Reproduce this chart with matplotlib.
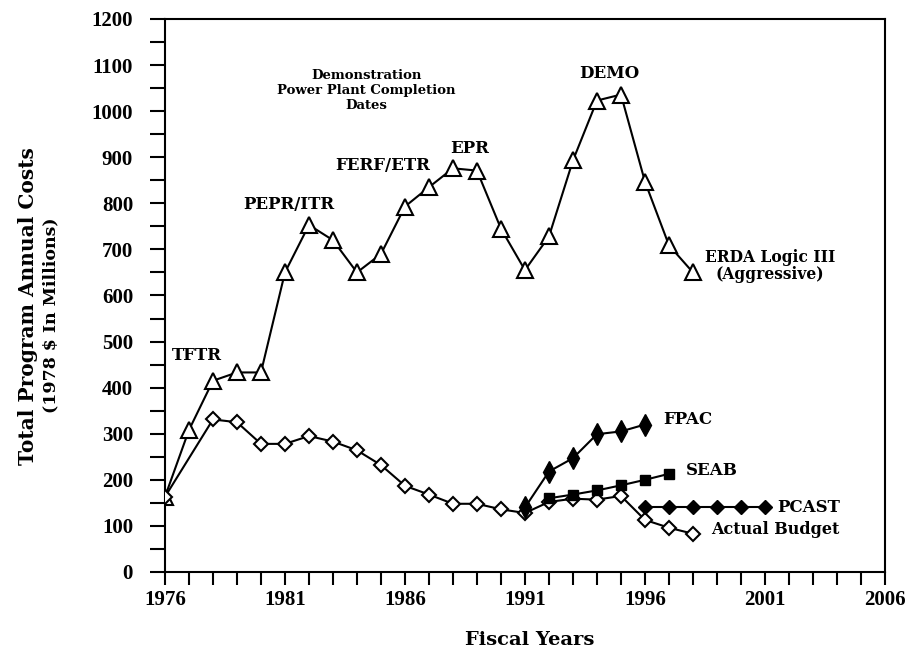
import matplotlib
matplotlib.use("Agg")
import matplotlib.pyplot as plt
from matplotlib.ticker import MultipleLocator

plt.rcParams['font.family'] = ['DejaVu Serif']

# ERDA Logic III (Aggressive)
erda_years = list(range(1976, 1999))
erda_vals = [163, 308, 415, 433, 433, 650, 753, 720, 650, 690, 793, 835, 876, 871, 745, 655, 728, 893, 1023, 1036, 847, 709, 650]

# Actual budget
actual_years = [1976, 1978, 1979, 1980, 1981, 1982, 1983, 1984, 1985, 1986, 1987,
                1988, 1989, 1990, 1991, 1992, 1993, 1994, 1995, 1996, 1997, 1998]
actual_vals = [163, 331, 325, 278, 278, 295, 283, 264, 232, 187, 168,
               148, 148, 136, 128, 152, 159, 157, 165, 113, 96, 83]

# FPAC
fpac_years = [1991, 1992, 1993, 1994, 1995, 1996]
fpac_vals = [140, 218, 247, 299, 305, 320]

# SEAB
seab_years = [1992, 1993, 1994, 1995, 1996, 1997]
seab_vals = [160, 168, 177, 188, 200, 213]

# PCAST
pcast_years = [1996, 1997, 1998, 1999, 2000, 2001]
pcast_vals = [140, 140, 140, 140, 140, 140]

x_tick_labels = ['1976', '1981', '1986', '1991', '1996', '2001', '2006']

fig = plt.figure(figsize=(9.18, 6.57), dpi=100)
ax = fig.add_axes([0.1797, 0.1294, 0.7843, 0.8417])

lw = 1.5
ax.plot(erda_years, erda_vals, color='black', lw=lw, marker='^', ms=11,
        mfc='white', mec='black', mew=1.5, zorder=3)
ax.plot(actual_years, actual_vals, color='black', lw=lw, marker='D', ms=7.5,
        mfc='white', mec='black', mew=1.5, zorder=3)
ax.plot(fpac_years, fpac_vals, color='black', lw=lw, marker='d', ms=11,
        mfc='black', mec='black', zorder=4)
ax.plot(seab_years, seab_vals, color='black', lw=lw, marker='s', ms=7,
        mfc='black', mec='black', zorder=4)
ax.plot(pcast_years, pcast_vals, color='black', lw=lw, marker='D', ms=7.5,
        mfc='black', mec='black', zorder=4)

ax.set_xlim(1976, 2006)
ax.set_ylim(0, 1200)
ax.set_xticks([int(t) for t in x_tick_labels])
ax.set_xticklabels(x_tick_labels)
ax.xaxis.set_minor_locator(MultipleLocator(1))
ax.yaxis.set_major_locator(MultipleLocator(100))
ax.yaxis.set_minor_locator(MultipleLocator(50))
ax.tick_params(axis='x', which='both', direction='out', length=9.5, width=1.5, pad=3.5)
ax.tick_params(axis='y', which='both', direction='out', length=11, width=1.5, pad=12)
for lab in ax.get_xticklabels() + ax.get_yticklabels():
    lab.set_fontweight('bold')
    lab.set_fontfamily('Liberation Serif')
    lab.set_fontsize(15)
for s in ax.spines.values():
    s.set_linewidth(1.5)

tkw = dict(fontsize=12, fontweight='bold', color='black')
ax.text(1976.3, 470, 'TFTR', ha='left', va='center', **tkw)
ax.text(1979.25, 797, 'PEPR/ITR', ha='left', va='center', **tkw)
ax.text(1983.1, 882, 'FERF/ETR', ha='left', va='center', **tkw)
ax.text(1987.9, 920, 'EPR', ha='left', va='center', **tkw)
ax.text(1993.25, 1082, 'DEMO', ha='left', va='center', **tkw)
ax.text(1984.4, 1045, 'Demonstration\nPower Plant Completion\nDates',
        ha='center', va='center', fontsize=9.5, fontweight='bold', linespacing=1.2)
ax.text(1998.5, 663, 'ERDA Logic III\n(Aggressive)', ha='left', va='center',
        fontsize=11.2, fontweight='bold', multialignment='center', linespacing=1.0)
ax.text(1996.75, 330, 'FPAC', ha='left', va='center', **tkw)
ax.text(1997.7, 220, 'SEAB', ha='left', va='center', **tkw)
ax.text(2001.5, 141, 'PCAST', ha='left', va='center', **tkw)
ax.text(1998.75, 93, 'Actual Budget', ha='left', va='center',
        fontsize=11.5, fontweight='bold')

fig.text(0.577, 0.012, 'Fiscal Years', ha='center', va='bottom',
         fontsize=14, fontweight='bold')
fig.text(0.031, 0.534, 'Total Program Annual Costs', rotation=90, ha='center',
         va='center', fontsize=14.5, fontweight='bold')
fig.text(0.055, 0.52, '(1978 $ In Millions)', rotation=90, ha='center',
         va='center', fontsize=12.5, fontweight='bold')

fig.savefig('out.png', dpi=100, facecolor='white')
